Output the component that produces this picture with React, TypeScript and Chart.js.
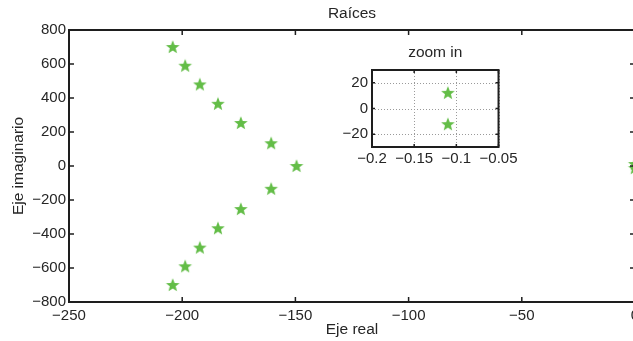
import React, { useEffect, useRef } from 'react';
import { Chart, registerables } from 'chart.js';
Chart.register(...registerables);

// ---- data ----
const polesReal = [-204.2, -198.7, -192.2, -184.2, -174.1, -160.7, -149.5, -160.7, -174.1, -184.2, -192.2, -198.7, -204.2, -0.11, -0.11];
const polesImag = [700, 590, 480, 366, 253, 134, 0, -134, -253, -366, -480, -590, -700, 12, -12];
const zoomReal = [-0.11, -0.11];
const zoomImag = [12.2, -12.2];

const mainXTicks = [-250, -200, -150, -100, -50, 0];
const mainYTicks = [-800, -600, -400, -200, 0, 200, 400, 600, 800];
const zoomXTicks = [-0.2, -0.15, -0.1, -0.05];
const zoomYTicks = [-20, 0, 20];

const FONT = "'Liberation Sans', Arial, Helvetica, sans-serif";
const FS = 15;
const FT = 15.5;
const TXT = '#262626';
const AX = '#1e1e1e';
const GREEN = '#63bd47';

Chart.defaults.font.family = FONT;
Chart.defaults.font.size = FS;
Chart.defaults.color = TXT;

function makeStar(): HTMLCanvasElement {
  const c = document.createElement('canvas');
  c.width = 16;
  c.height = 16;
  const g = c.getContext('2d')!;
  const cx = 8, cy = 8.4, ro = 7.2, ri = 3.1;
  g.beginPath();
  for (let i = 0; i < 10; i++) {
    const r = i % 2 === 0 ? ro : ri;
    const a = -Math.PI / 2 + (i * Math.PI) / 5;
    const px = cx + r * Math.cos(a);
    const py = cy + r * Math.sin(a);
    if (i === 0) g.moveTo(px, py);
    else g.lineTo(px, py);
  }
  g.closePath();
  g.fillStyle = GREEN;
  g.fill();
  return c;
}

const fmt = (v: number | string) => String(v).replace('-', '\u2212');

function boxPlugin(id: string, tickLen: number, grid: boolean) {
  return {
    id,
    beforeDatasetsDraw(chart: any) {
      if (!grid) return;
      const { ctx, chartArea: { left, right, top, bottom }, scales: { x, y } } = chart;
      ctx.save();
      ctx.fillStyle = '#fff';
      ctx.fillRect(left, top, right - left, bottom - top);
      ctx.strokeStyle = '#9a9a9a';
      ctx.lineWidth = 1;
      ctx.setLineDash([1, 2]);
      x.ticks.forEach((t: any) => {
        const px = Math.round(x.getPixelForValue(t.value)) + 0.5;
        ctx.beginPath();
        ctx.moveTo(px, top);
        ctx.lineTo(px, bottom);
        ctx.stroke();
      });
      y.ticks.forEach((t: any) => {
        const py = Math.round(y.getPixelForValue(t.value)) + 0.5;
        ctx.beginPath();
        ctx.moveTo(left, py);
        ctx.lineTo(right, py);
        ctx.stroke();
      });
      ctx.restore();
    },
    afterDraw(chart: any) {
      const { ctx, chartArea: { left, right, top, bottom }, scales: { x, y } } = chart;
      ctx.save();
      ctx.strokeStyle = AX;
      ctx.lineWidth = 1.5;
      x.ticks.forEach((t: any) => {
        const px = x.getPixelForValue(t.value);
        ctx.beginPath();
        ctx.moveTo(px, bottom);
        ctx.lineTo(px, bottom - tickLen);
        ctx.moveTo(px, top);
        ctx.lineTo(px, top + tickLen);
        ctx.stroke();
      });
      y.ticks.forEach((t: any) => {
        const py = y.getPixelForValue(t.value);
        ctx.beginPath();
        ctx.moveTo(left, py);
        ctx.lineTo(left + tickLen, py);
        ctx.moveTo(right, py);
        ctx.lineTo(right - tickLen, py);
        ctx.stroke();
      });
      ctx.lineWidth = 2;
      ctx.strokeRect(left, top, right - left, bottom - top);
      ctx.restore();
    },
  };
}

export default function App() {
  const mainRef = useRef<HTMLCanvasElement>(null);
  const zoomRef = useRef<HTMLCanvasElement>(null);

  useEffect(() => {
    const star = makeStar();
    const main = new Chart(mainRef.current!, {
      type: 'scatter',
      data: {
        datasets: [
          {
            data: polesReal.map((v, i) => ({ x: v, y: polesImag[i] })),
            pointStyle: star as any,
            pointRadius: 7,
            backgroundColor: GREEN,
            borderColor: GREEN,
            showLine: false,
          },
        ],
      },
      options: {
        responsive: false,
        animation: false,
        devicePixelRatio: 1,
        layout: { padding: { left: 0, right: 25, top: 0, bottom: 0 } },
        plugins: {
          legend: { display: false },
          tooltip: { enabled: false },
          title: {
            display: true,
            text: 'Raíces',
            fullSize: false,
            color: TXT,
            font: { size: FT, weight: 'normal', family: FONT },
            padding: { top: 4.6, bottom: 6.8 },
          },
        },
        scales: {
          x: {
            type: 'linear',
            min: -250,
            max: 0,
            afterBuildTicks: (s: any) => { s.ticks = mainXTicks.map((v) => ({ value: v })); },
            afterFit: (s: any) => { s.height = 39; },
            grid: { display: false, drawTicks: false },
            border: { display: false },
            ticks: { padding: 5, color: TXT, maxRotation: 0, callback: fmt },
            title: { display: true, text: 'Eje real', color: TXT, font: { size: FT }, padding: { top: 0, bottom: 2.3 } },
          },
          y: {
            type: 'linear',
            min: -800,
            max: 800,
            afterBuildTicks: (s: any) => { s.ticks = mainYTicks.map((v) => ({ value: v })); },
            afterFit: (s: any) => { s.width = 69; },
            grid: { display: false, drawTicks: false },
            border: { display: false },
            ticks: { padding: 3, color: TXT, callback: fmt },
            title: { display: true, text: 'Eje imaginario', color: TXT, font: { size: FT }, padding: { top: 9.2, bottom: 0 } },
          },
        },
      },
      plugins: [boxPlugin('mainBox', 5, false)],
    });

    const zoom = new Chart(zoomRef.current!, {
      type: 'scatter',
      data: {
        datasets: [
          {
            data: zoomReal.map((v, i) => ({ x: v, y: zoomImag[i] })),
            pointStyle: star as any,
            pointRadius: 7,
            backgroundColor: GREEN,
            borderColor: GREEN,
            showLine: false,
          },
        ],
      },
      options: {
        responsive: false,
        animation: false,
        devicePixelRatio: 1,
        layout: { padding: { left: 0, right: 20, top: 0, bottom: 0 } },
        plugins: {
          legend: { display: false },
          tooltip: { enabled: false },
          title: {
            display: true,
            text: 'zoom in',
            fullSize: false,
            color: TXT,
            font: { size: FT, weight: 'normal', family: FONT },
            padding: { top: 5.7, bottom: 7.7 },
          },
        },
        scales: {
          x: {
            type: 'linear',
            min: -0.2,
            max: -0.05,
            afterBuildTicks: (s: any) => { s.ticks = zoomXTicks.map((v) => ({ value: v })); },
            afterFit: (s: any) => { s.height = 23; },
            grid: { display: false, drawTicks: false },
            border: { display: false },
            ticks: { padding: 2.5, color: TXT, maxRotation: 0, callback: fmt },
          },
          y: {
            type: 'linear',
            min: -30,
            max: 30,
            afterBuildTicks: (s: any) => { s.ticks = zoomYTicks.map((v) => ({ value: v })); },
            afterFit: (s: any) => { s.width = 42; },
            grid: { display: false, drawTicks: false },
            border: { display: false },
            ticks: { padding: 4, color: TXT, callback: fmt },
          },
        },
      },
      plugins: [boxPlugin('zoomBox', 3, true)],
    });

    return () => {
      main.destroy();
      zoom.destroy();
    };
  }, []);

  return (
    <div style={{ position: 'fixed', left: 0, top: 0, width: 633, height: 341, overflow: 'hidden', background: '#fff' }}>
      <canvas ref={mainRef} width={660} height={341} style={{ position: 'absolute', left: 0, top: 0 }} />
      <canvas ref={zoomRef} width={190} height={132} style={{ position: 'absolute', left: 330, top: 38 }} />
    </div>
  );
}
